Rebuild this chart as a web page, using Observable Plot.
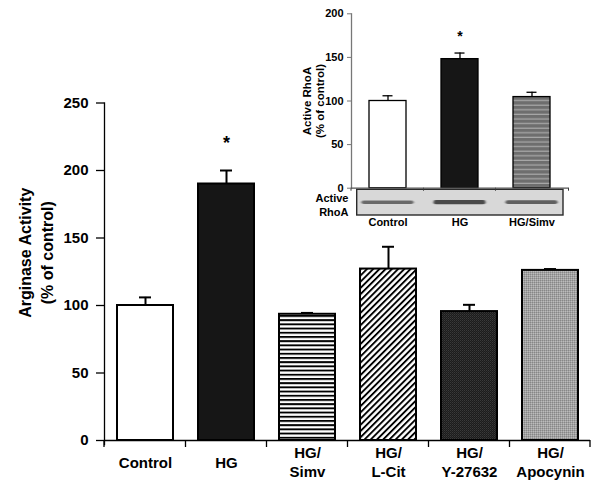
<!DOCTYPE html>
<html><head><meta charset="utf-8">
<script src="https://cdn.jsdelivr.net/npm/d3@7"></script>
<script src="https://cdn.jsdelivr.net/npm/@observablehq/plot@0.6"></script>
<style>
body{margin:0;background:#fff;}
#wrap{position:relative;width:600px;height:483px;overflow:hidden;}
#wrap svg{position:absolute;}
</style></head><body><div id="wrap"></div>
<script>
// ---------- data: main chart ----------
const categories = ["Control", "HG", "HG/Simv", "HG/L-Cit", "HG/Y-27632", "HG/Apocynin"];
const tickLabels = ["Control", "HG", "HG/\nSimv", "HG/\nL-Cit", "HG/\nY-27632", "HG/\nApocynin"];
const means = [100, 190, 93.5, 127, 95.5, 126];
const errorsUpper = [106, 200, 94.5, 143.5, 100.5, 127];
const significant = ["HG"];
const yTicks = [0, 50, 100, 150, 200, 250];
const yTitleLines = ["Arginase Activity", "(% of control)"];

// ---------- data: inset ----------
const insetCategories = ["Control", "HG", "HG/Simv"];
const insetMeans = [100, 148, 104.5];
const insetErrorsUpper = [106, 155, 110];
const insetTicks = [0, 50, 100, 150, 200];
const blotIntensity = [0.6, 1, 0.7];
const insetTitleLines = ["Active RhoA", "(% of control)"];
const blotLabel = "Active\nRhoA";

// ---------- styles ----------
const FONT = "'Liberation Sans', Arial, Helvetica, sans-serif";
const mainFill = {"Control": "white", "HG": "#161616", "HG/Simv": "url(#hstripe)", "HG/L-Cit": "url(#diag)", "HG/Y-27632": "url(#darkstip)", "HG/Apocynin": "url(#graystip)"};
const insetFill = {"Control": "white", "HG": "#161616", "HG/Simv": "url(#grayline)"};

const mainData = categories.map((c, i) => ({cat: c, label: tickLabels[i], mean: means[i], err: errorsUpper[i]}));
const insetData = insetCategories.map((c, i) => ({cat: c, mean: insetMeans[i], err: insetErrorsUpper[i], band: blotIntensity[i]}));

function bandTicks(len, sw, color) {
  return (index, scales, values, dims) => {
    const x = scales.x, dom = x.domain(), bw = x.bandwidth();
    const xs = [dims.marginLeft];
    for (let i = 0; i < dom.length - 1; i++) xs.push((x(dom[i]) + bw + x(dom[i + 1])) / 2);
    xs.push(dims.width - dims.marginRight);
    const y0 = scales.y(0);
    const g = d3.create("svg:g");
    g.selectAll("line").data(xs).join("line")
      .attr("x1", d => d).attr("x2", d => d).attr("y1", y0).attr("y2", y0 + len)
      .attr("stroke", color).attr("stroke-width", sw);
    return g.node();
  };
}

// ---------- main chart ----------
const main = Plot.plot({
  width: 600, height: 483,
  marginLeft: 104, marginRight: 10, marginTop: 102.5, marginBottom: 43,
  style: {fontFamily: FONT, fontWeight: "bold", fontSize: "15px", color: "black", background: "white", overflow: "visible"},
  x: {domain: categories, paddingInner: 0.31, paddingOuter: 0.155, axis: null},
  y: {domain: [0, 250], axis: null},
  color: {type: "identity"},
  marks: [
    Plot.ruleX(mainData, {x: "cat", y1: "mean", y2: "err", strokeWidth: 2}),
    Plot.tickY(mainData, {x: "cat", y: "err", insetLeft: 22, insetRight: 22, strokeWidth: 2}),
    Plot.barY(mainData, {x: "cat", y: "mean", fill: d => mainFill[d.cat], stroke: "black", strokeWidth: 2}),
    Plot.frame({anchor: "left", strokeWidth: 1.3, insetBottom: -4}),
    Plot.ruleY([0], {strokeWidth: 1.5}),
    bandTicks(7, 1.3, "black"),
    Plot.axisY({ticks: yTicks, tickSize: 8, tickPadding: 8, fontSize: 15, label: null, strokeWidth: 1.3}),
    Plot.text([yTitleLines[0]], {frameAnchor: "left", rotate: -90, textAnchor: "middle", dx: -79, dy: -19, fontSize: 16}),
    Plot.text([yTitleLines[1]], {frameAnchor: "left", rotate: -90, textAnchor: "middle", dx: -57, dy: -19, fontSize: 16}),
    Plot.text(mainData, {x: "cat", text: "label", frameAnchor: "bottom", dy: 21, lineAnchor: "middle", fontSize: 15, lineHeight: 1.27}),
    Plot.text(mainData.filter(d => significant.includes(d.cat)), {x: "cat", y: "err", text: () => "*", dy: -27, fontSize: 18})
  ]
});

d3.select(main).insert("defs", ":first-child").html(`
  <pattern id="hstripe" patternUnits="userSpaceOnUse" width="8" height="4.2">
    <rect width="8" height="4.2" fill="white"/><rect width="8" height="1.9" fill="black"/>
  </pattern>
  <pattern id="diag" patternUnits="userSpaceOnUse" width="4.4" height="10" patternTransform="rotate(45)">
    <rect width="4.4" height="10" fill="white"/><rect width="1.9" height="10" fill="black"/>
  </pattern>
  <pattern id="darkstip" patternUnits="userSpaceOnUse" width="2" height="2">
    <rect width="2" height="2" fill="#1c1c1c"/><rect width="1" height="1" fill="#3a3a3a"/><rect x="1" y="1" width="1" height="1" fill="#2c2c2c"/>
  </pattern>
  <pattern id="graystip" patternUnits="userSpaceOnUse" width="2" height="2">
    <rect width="2" height="2" fill="#a2a2a2"/><rect width="1" height="1" fill="#878787"/><rect x="1" y="1" width="1" height="1" fill="#bcbcbc"/>
  </pattern>`);

// ---------- inset ----------
function blot(index, scales, values, dims) {
  const x = scales.x, bw = x.bandwidth(), y0 = scales.y(0);
  const [r0, r1] = x.range();
  const g = d3.create("svg:g");
  g.append("defs").html(`<filter id="blotblur" x="-20%" y="-200%" width="140%" height="500%"><feGaussianBlur stdDeviation="1.3 0.7"/></filter>`);
  g.append("rect").attr("x", r0 + 5.7).attr("y", y0 + 1.6).attr("width", r1 - r0 - 11.2).attr("height", 25.7)
    .attr("fill", "#d8d8d8").attr("stroke", "#2a2a2a").attr("stroke-width", 1.4);
  g.selectAll("rect.band").data(insetData).join("rect").attr("class", "band")
    .attr("x", d => x(d.cat) + bw / 2 - 26).attr("width", 52)
    .attr("y", d => y0 + 14.5 - (1.2 + 0.9 * d.band)).attr("height", d => 2.4 + 1.8 * d.band)
    .attr("rx", 2)
    .attr("fill", "#262626").attr("fill-opacity", d => 0.35 + 0.45 * d.band)
    .attr("filter", "url(#blotblur)");
  return g.node();
}

const inset = Plot.plot({
  width: 320, height: 235,
  marginLeft: 71, marginRight: 31.5, marginTop: 13.3, marginBottom: 47.3,
  style: {fontFamily: FONT, fontWeight: "bold", fontSize: "11px", color: "black", background: "transparent", overflow: "visible"},
  x: {domain: insetCategories, paddingInner: 0.49, paddingOuter: 0.245, axis: null},
  y: {domain: [0, 200], axis: null},
  color: {type: "identity"},
  marks: [
    blot,
    bandTicks(3, 1, "#333"),
    Plot.ruleX(insetData, {x: "cat", y1: "mean", y2: "err", strokeWidth: 1.3}),
    Plot.tickY(insetData, {x: "cat", y: "err", insetLeft: 13.5, insetRight: 13.5, strokeWidth: 1.3}),
    Plot.barY(insetData, {x: "cat", y: "mean", fill: d => insetFill[d.cat], stroke: "black", strokeWidth: 1.3}),
    Plot.frame({anchor: "left", stroke: "#777", strokeWidth: 1.3}),
    Plot.ruleY([0], {stroke: "#555", strokeWidth: 1.2}),
    Plot.axisY({ticks: insetTicks, tickSize: 4, tickPadding: 4, fontSize: 11, label: null, stroke: "#777"}),
    Plot.text([insetTitleLines[0]], {frameAnchor: "left", rotate: -90, textAnchor: "middle", dx: -44.3, dy: 0, fontSize: 11.5}),
    Plot.text([insetTitleLines[1]], {frameAnchor: "left", rotate: -90, textAnchor: "middle", dx: -31, dy: 0, fontSize: 11.5}),
    Plot.text([blotLabel], {frameAnchor: "bottom-left", dx: -3, dy: 16.5, textAnchor: "end", lineAnchor: "middle", fontSize: 11, lineHeight: 1.27}),
    Plot.text(insetData, {x: "cat", text: "cat", frameAnchor: "bottom", dy: 38, fontSize: 11}),
    Plot.text(insetData.filter(d => significant.includes(d.cat)), {x: "cat", y: "err", text: () => "*", dy: -16.5, fontSize: 14})
  ]
});

d3.select(inset).insert("defs", ":first-child").html(`
  <pattern id="grayline" patternUnits="userSpaceOnUse" width="8" height="4.6">
    <rect width="8" height="4.6" fill="#6e6e6e"/><rect y="3.5" width="8" height="0.7" fill="#d4d4d4"/>
  </pattern>`);

const wrap = document.getElementById("wrap");
main.style.left = "0px"; main.style.top = "0px";
inset.style.left = "280px"; inset.style.top = "0px";
wrap.appendChild(main);
wrap.appendChild(inset);
</script></body></html>
